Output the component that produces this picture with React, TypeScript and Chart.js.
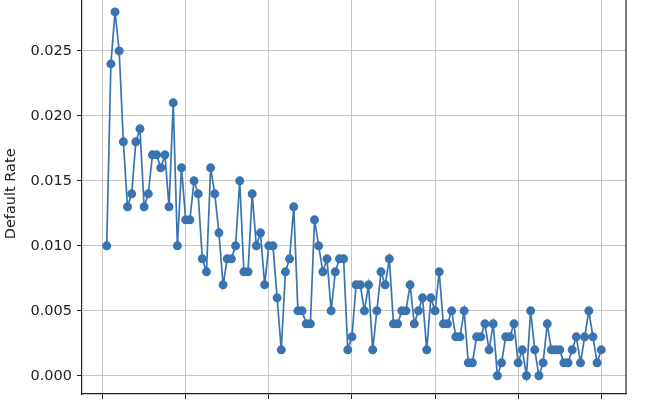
import { useEffect, useRef } from "react";
import { Chart, registerables } from "chart.js";

Chart.register(...registerables);

// default rate per period (periods 1..120)
const defaultRates = [
  0.010, 0.024, 0.028, 0.025, 0.018, 0.013, 0.014, 0.018, 0.019, 0.013,
  0.014, 0.017, 0.017, 0.016, 0.017, 0.013, 0.021, 0.010, 0.016, 0.012,
  0.012, 0.015, 0.014, 0.009, 0.008, 0.016, 0.014, 0.011, 0.007, 0.009,
  0.009, 0.010, 0.015, 0.008, 0.008, 0.014, 0.010, 0.011, 0.007, 0.010,
  0.010, 0.006, 0.002, 0.008, 0.009, 0.013, 0.005, 0.005, 0.004, 0.004,
  0.012, 0.010, 0.008, 0.009, 0.005, 0.008, 0.009, 0.009, 0.002, 0.003,
  0.007, 0.007, 0.005, 0.007, 0.002, 0.005, 0.008, 0.007, 0.009, 0.004,
  0.004, 0.005, 0.005, 0.007, 0.004, 0.005, 0.006, 0.002, 0.006, 0.005,
  0.008, 0.004, 0.004, 0.005, 0.003, 0.003, 0.005, 0.001, 0.001, 0.003,
  0.003, 0.004, 0.002, 0.004, 0.000, 0.001, 0.003, 0.003, 0.004, 0.001,
  0.002, 0.000, 0.005, 0.002, 0.000, 0.001, 0.004, 0.002, 0.002, 0.002,
  0.001, 0.001, 0.002, 0.003, 0.001, 0.003, 0.005, 0.003, 0.001, 0.002,
];

const xTicks = [0, 20, 40, 60, 80, 100, 120];
const yTicks = [0, 0.005, 0.01, 0.015, 0.02, 0.025];

const INK = "#222222";
const BLUE = "#3a74b0";

const rightSpine = {
  id: "rightSpine",
  afterDraw(chart: Chart) {
    const { ctx, chartArea } = chart;
    ctx.save();
    ctx.strokeStyle = INK;
    ctx.lineWidth = 1.2;
    ctx.beginPath();
    ctx.moveTo(chartArea.right, chartArea.top);
    ctx.lineTo(chartArea.right, chartArea.bottom);
    ctx.stroke();
    ctx.restore();
  },
};

export default function App() {
  const canvasRef = useRef<HTMLCanvasElement>(null);
  const chartRef = useRef<Chart | null>(null);

  useEffect(() => {
    const ctx = canvasRef.current?.getContext("2d");
    if (!ctx) return;

    Chart.defaults.font.family = "'DejaVu Sans', sans-serif";
    Chart.defaults.font.size = 14.5;
    Chart.defaults.color = INK;

    chartRef.current?.destroy();
    chartRef.current = new Chart(ctx, {
      type: "line",
      data: {
        datasets: [
          {
            label: "Default Rate",
            data: defaultRates.map((v, i) => ({ x: i + 1, y: v })),
            borderColor: BLUE,
            backgroundColor: BLUE,
            pointBackgroundColor: BLUE,
            pointBorderWidth: 0,
            pointRadius: 4.5,
            borderWidth: 1.7,
            tension: 0,
          },
        ],
      },
      options: {
        animation: false,
        responsive: true,
        maintainAspectRatio: false,
        layout: { padding: { left: 0, right: 24, top: 9, bottom: 0 } },
        plugins: { legend: { display: false }, tooltip: { enabled: false } },
        scales: {
          x: {
            type: "linear",
            min: -4.95,
            max: 125.95,
            afterBuildTicks: (scale) => {
              scale.ticks = xTicks.map((v) => ({ value: v }));
            },
            afterFit: (scale) => {
              scale.height = 26;
            },
            ticks: { padding: 5, maxRotation: 0, callback: (v) => String(v) },
            grid: {
              color: "#c6c6c6",
              lineWidth: 1,
              tickColor: INK,
              tickLength: 5,
              tickWidth: 1,
            },
            border: { color: INK, width: 1.2 },
          },
          y: {
            type: "linear",
            min: -0.0014,
            max: 0.0294,
            afterBuildTicks: (scale) => {
              scale.ticks = yTicks.map((v) => ({ value: v }));
            },
            afterFit: (scale) => {
              scale.width = 82;
            },
            ticks: {
              padding: 5,
              callback: (v) => Number(v).toFixed(3),
            },
            grid: {
              color: "#c6c6c6",
              lineWidth: 1,
              tickColor: INK,
              tickLength: 5,
              tickWidth: 1,
            },
            border: { color: INK, width: 1.2 },
            title: {
              display: true,
              text: "Default Rate",
              padding: { top: 3, bottom: 0 },
            },
          },
        },
      },
      plugins: [rightSpine],
    });

    return () => {
      chartRef.current?.destroy();
      chartRef.current = null;
    };
  }, []);

  return (
    <div
      style={{
        position: "fixed",
        left: 0,
        top: 0,
        width: 650,
        height: 400,
        overflow: "hidden",
        background: "#fff",
      }}
    >
      <div style={{ position: "absolute", left: 0, top: -20, width: 650, height: 440 }}>
        <canvas ref={canvasRef} />
      </div>
    </div>
  );
}
